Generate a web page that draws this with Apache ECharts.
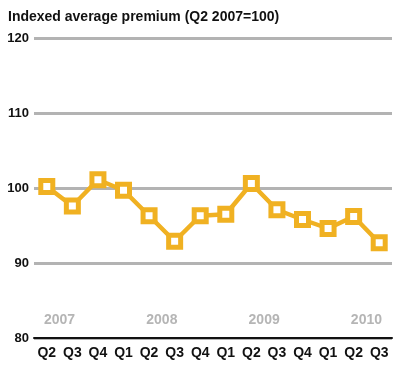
<!DOCTYPE html>
<html><head><meta charset="utf-8">
<script src="https://cdn.jsdelivr.net/npm/echarts@6/dist/echarts.min.js"></script>
<style>html,body{margin:0;padding:0;background:#fff}#c{width:402px;height:368px}</style>
</head><body><div id="c"></div>
<script>
var quarters = ["Q2","Q3","Q4","Q1","Q2","Q3","Q4","Q1","Q2","Q3","Q4","Q1","Q2","Q3"];
var premium = [100.2, 97.6, 101.1, 99.7, 96.3, 92.9, 96.3, 96.5, 100.6, 97.1, 95.8, 94.6, 96.2, 92.7];
var yearTicks = ["","2007","","","","2008","","","","2009","","","","2010",""];
var yTicks = {min: 80, max: 120, interval: 10};
var titleText = "Indexed average premium (Q2 2007=100)";

var chart = echarts.init(document.getElementById('c'), null, {renderer: 'canvas'});
var gold = '#f0b122';
chart.setOption({
  animation: false,
  textStyle: {fontFamily: 'Liberation Sans'},
  title: {text: titleText, left: 3, top: 5,
    textStyle: {fontSize: 14, fontWeight: 'bold', color: '#111', fontFamily: 'Liberation Sans'}},
  grid: {left: 34, right: 10, top: 38, bottom: 30},
  xAxis: [{
    type: 'category', data: quarters, boundaryGap: true, position: 'bottom',
    axisLine: {lineStyle: {color: '#111', width: 2}},
    axisTick: {inside: true, length: 7, lineStyle: {color: '#111', width: 2}},
    axisLabel: {color: '#111', fontSize: 14, fontWeight: 'bold', margin: 8, interval: 0}
  }, {
    type: 'category', data: yearTicks, boundaryGap: false, position: 'bottom',
    axisLine: {show: false}, axisTick: {show: false},
    axisLabel: {inside: true, color: '#b5b5b5', fontSize: 14, fontWeight: 'bold', margin: 11, interval: 0}
  }],
  yAxis: {
    type: 'value', min: yTicks.min, max: yTicks.max, interval: yTicks.interval,
    axisLine: {show: false}, axisTick: {show: false},
    axisLabel: {color: '#111', fontSize: 13, fontWeight: 'bold', margin: 5},
    splitLine: {lineStyle: {color: '#b3b3b3', width: 3}}
  },
  series: [{
    type: 'line', data: premium, xAxisIndex: 0,
    lineStyle: {color: gold, width: 4.5},
    symbol: 'rect', symbolSize: 12,
    itemStyle: {color: '#fff', borderColor: gold, borderWidth: 5}
  }]
});
</script></body></html>
